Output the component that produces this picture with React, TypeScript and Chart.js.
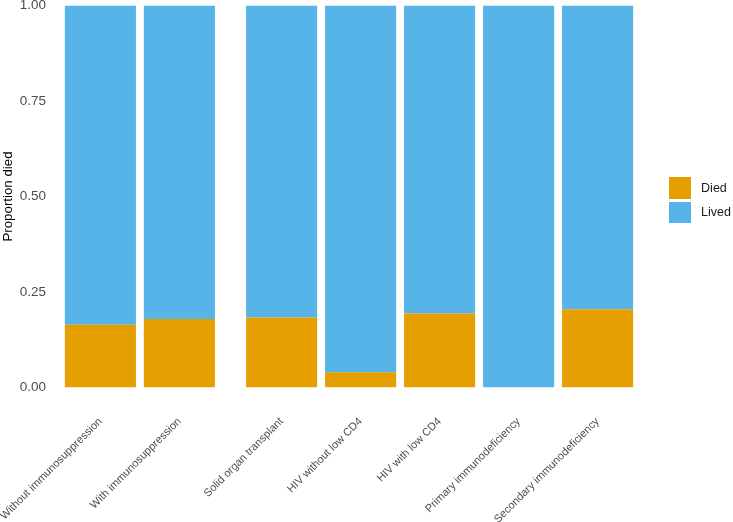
import { useEffect, useRef } from "react";
import { Chart, registerables } from "chart.js";

Chart.register(...registerables);

// two panels in the original plot, drawn as two groups on one linear axis
const groupOne = ["Without immunosuppression", "With immunosuppression"];
const groupTwo = [
  "Solid organ transplant",
  "HIV without low CD4",
  "HIV with low CD4",
  "Primary immunodeficiency",
  "Secondary immunodeficiency",
];
const diedOne = [0.164, 0.179];
const diedTwo = [0.183, 0.04, 0.194, 0, 0.205];

const outcomes = ["Died", "Lived"];
const outcomeColors = ["#E69F00", "#56B4E9"];
const yTicks = [0, 0.25, 0.5, 0.75, 1];

const PANEL_PAD = 0.6;
const PANEL_GAP = 0.094;
const FONT = "'Liberation Sans', Arial, Helvetica, sans-serif";

const labels = [...groupOne, ...groupTwo];
const died = [...diedOne, ...diedTwo];
const lived = died.map((d) => 1 - d);
const positions = [
  ...groupOne.map((_, i) => i + 1),
  ...groupTwo.map((_, i) => groupOne.length + 2 * PANEL_PAD + PANEL_GAP + i),
];

export default function App() {
  const canvasRef = useRef<HTMLCanvasElement>(null);
  const chartRef = useRef<Chart | null>(null);

  useEffect(() => {
    document.body.style.margin = "0";
    if (!canvasRef.current) return;

    chartRef.current?.destroy();

    chartRef.current = new Chart(canvasRef.current, {
      type: "bar",
      data: {
        datasets: [
          {
            label: outcomes[0],
            data: positions.map((x, i) => ({ x, y: died[i] })),
            backgroundColor: outcomeColors[0],
            stack: "s",
          },
          {
            label: outcomes[1],
            data: positions.map((x, i) => ({ x, y: lived[i] })),
            backgroundColor: outcomeColors[1],
            stack: "s",
          },
        ],
      },
      options: {
        animation: false,
        responsive: true,
        maintainAspectRatio: false,
        borderWidth: 0,
        categoryPercentage: 1,
        barPercentage: 0.9,
        layout: { padding: { top: 0, right: 88, bottom: 0, left: 0 } },
        plugins: {
          legend: { display: false },
          tooltip: { enabled: false },
        },
        scales: {
          x: {
            type: "linear",
            offset: false,
            min: 1 - PANEL_PAD,
            max: positions[positions.length - 1] + PANEL_PAD,
            grid: { display: false, drawTicks: false },
            border: { display: false },
            afterBuildTicks: (scale) => {
              scale.ticks = positions.map((value) => ({ value }));
            },
            afterFit: (scale) => {
              scale.height = 134.5;
              scale.paddingLeft = 0;
              scale.paddingRight = 0;
            },
            ticks: {
              autoSkip: false,
              minRotation: 45,
              maxRotation: 45,
              padding: 27.5,
              color: "#4D4D4D",
              font: { family: FONT, size: 11 },
              callback: (_v, i) => labels[i],
            },
          },
          y: {
            stacked: true,
            min: 0,
            max: 1,
            grid: { display: false, drawTicks: false },
            border: { display: false },
            afterBuildTicks: (scale) => {
              scale.ticks = yTicks.map((value) => ({ value }));
            },
            afterFit: (scale) => {
              scale.width = 53;
              scale.paddingTop = 5.5;
              scale.paddingBottom = 0;
            },
            ticks: {
              padding: 7,
              color: "#4D4D4D",
              font: { family: FONT, size: 13.5 },
              callback: (v) => Number(v).toFixed(2),
            },
            title: {
              display: true,
              text: "Proportion died",
              color: "#000000",
              padding: { top: 1.5, bottom: 0 },
              font: { family: FONT, size: 13.3, lineHeight: 1 },
            },
          },
        },
      },
    });

    return () => {
      chartRef.current?.destroy();
      chartRef.current = null;
    };
  }, []);

  return (
    <div style={{ position: "relative", width: 733, height: 522, fontFamily: FONT }}>
      <canvas ref={canvasRef} />
      <div style={{ position: "absolute", left: 669, top: 177, display: "flex", flexDirection: "column", gap: 3 }}>
        {outcomes.map((name, i) => (
          <div key={name} style={{ display: "flex", alignItems: "center", height: 21.6 }}>
            <span style={{ width: 21.6, height: 21.6, background: outcomeColors[i], display: "inline-block" }} />
            <span style={{ marginLeft: 10.5, fontSize: 12.5, color: "#1A1A1A" }}>{name}</span>
          </div>
        ))}
      </div>
    </div>
  );
}
